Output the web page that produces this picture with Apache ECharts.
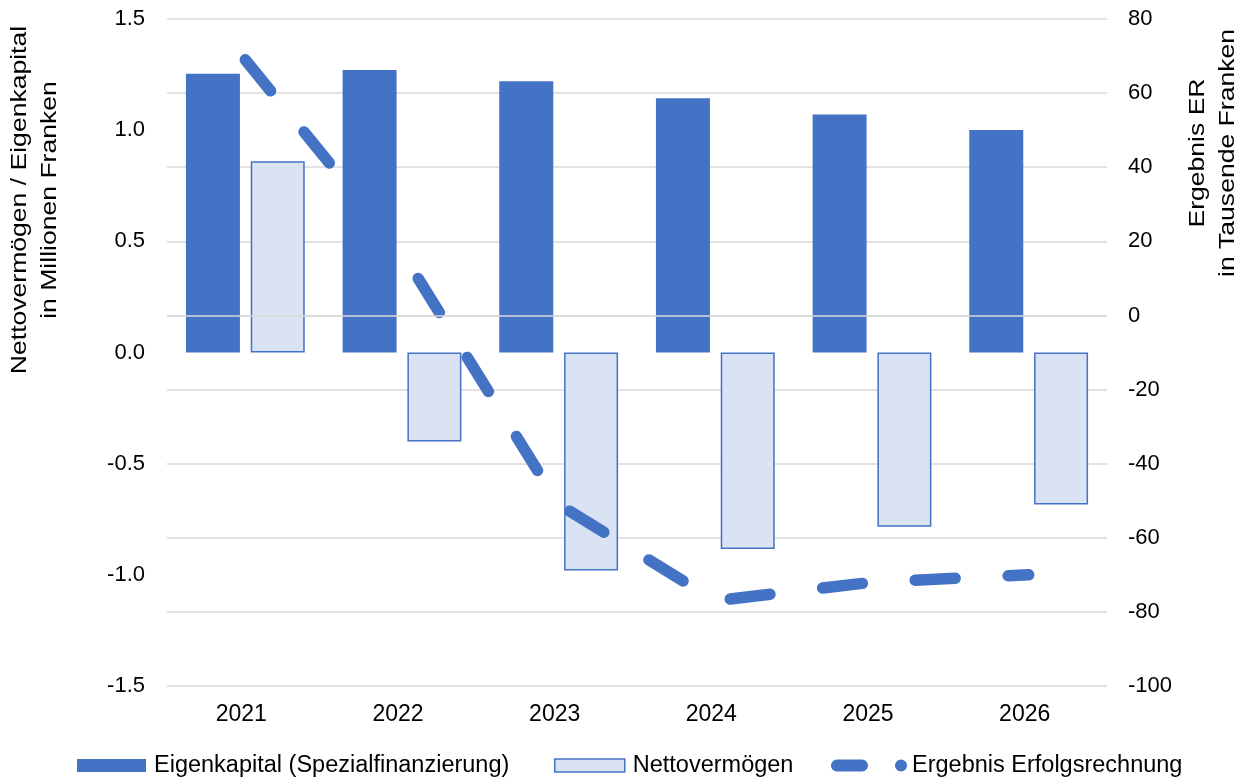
<!DOCTYPE html>
<html lang="de">
<head>
<meta charset="utf-8">
<title>Eigenkapital, Nettovermögen und Ergebnis ER 2021–2026</title>
<script src="https://cdn.jsdelivr.net/npm/echarts@6/dist/echarts.min.js"></script>
<style>
  html, body { margin: 0; padding: 0; background: #ffffff; }
  #chart { width: 1254px; height: 783px; }
</style>
</head>
<body>
<div id="chart"></div>
<script>
// Jahre (Kategorien)
const years = ['2021', '2022', '2023', '2024', '2025', '2026'];

// Eigenkapital (Spezialfinanzierung), Mio. Franken
const eigenkapital = [1.254, 1.271, 1.220, 1.143, 1.071, 1.001];

// Nettovermögen, Mio. Franken
const nettovermoegen = [0.860, -0.400, -0.980, -0.884, -0.784, -0.684];

// Ergebnis Erfolgsrechnung, Tausend Franken
const ergebnisER = [69, 17, -51, -77, -72, -70];

// Achsenbereiche
const leftAxisRange = { min: -1.5, max: 1.5, step: 0.5 };
const rightAxisRange = { min: -100, max: 80, step: 20 };

const BLUE = '#4472C4';
const LIGHT = '#DAE3F3';
const GRID = '#d9d9d9';
const FONT = "'Liberation Sans', Arial, sans-serif";

const chart = echarts.init(document.getElementById('chart'), null, { renderer: 'canvas' });

const legendText = { color: '#000', fontFamily: FONT, fontSize: 23.5, lineHeight: 24 };

chart.setOption({
  animation: false,
  backgroundColor: '#ffffff',
  grid: { left: 167, right: 147, top: 19, bottom: 97 },
  xAxis: {
    type: 'category',
    data: years,
    axisLine: { show: false },
    axisTick: { show: false },
    axisLabel: {
      color: '#000', fontFamily: FONT, fontSize: 23, margin: 17,
      padding: [0, 8, 0, 0]
    },
    splitLine: { show: false }
  },
  yAxis: [
    {
      type: 'value',
      min: leftAxisRange.min, max: leftAxisRange.max, interval: leftAxisRange.step,
      axisLine: { show: false },
      axisTick: { show: false },
      splitLine: { show: false },
      axisLabel: {
        color: '#000', fontFamily: FONT, fontSize: 22, margin: 22,
        formatter: v => (Math.abs(v) < 1e-9 ? 0 : v).toFixed(1)
      }
    },
    {
      type: 'value',
      position: 'right',
      min: rightAxisRange.min, max: rightAxisRange.max, interval: rightAxisRange.step,
      axisLine: { show: false },
      axisTick: { show: false },
      splitLine: { show: true, lineStyle: { color: GRID, width: 1.5 } },
      axisLabel: { color: '#000', fontFamily: FONT, fontSize: 22, margin: 21 }
    }
  ],
  legend: [
    {
      data: ['Eigenkapital (Spezialfinanzierung)'],
      left: 77, top: 753.5, padding: 0, itemWidth: 69, itemHeight: 13, icon: 'rect',
      selectedMode: false,
      itemStyle: { borderWidth: 0 },
      textStyle: Object.assign({ padding: [0, 0, 0, 3] }, legendText)
    },
    {
      data: ['Nettovermögen'],
      left: 554, top: 753.5, padding: 0, itemWidth: 70, itemHeight: 13, icon: 'rect',
      selectedMode: false,
      itemStyle: { borderWidth: 1.5, borderColor: BLUE },
      textStyle: Object.assign({ padding: [0, 0, 0, 3] }, legendText)
    },
    {
      data: [{
        name: 'Ergebnis Erfolgsrechnung',
        // long dash followed by the start of the next dash (round caps)
        icon: 'path://M6 0H31A6 6 0 0 1 31 12H6A6 6 0 0 1 6 0ZM64 6A6 6 0 1 1 76 6A6 6 0 1 1 64 6Z'
      }],
      left: 831, top: 753.5, padding: 0, itemWidth: 76, itemHeight: 12,
      selectedMode: false,
      itemStyle: { color: BLUE, borderWidth: 0 },
      textStyle: legendText
    }
  ],
  graphic: [
    {
      type: 'text',
      x: 35.5, y: 200,
      rotation: Math.PI / 2,
      scaleX: 1.235,
      style: {
        text: 'Nettovermögen / Eigenkapital\nin Millionen Franken',
        fill: '#000', fontFamily: FONT, fontSize: 21.5, lineHeight: 30,
        align: 'center', verticalAlign: 'middle'
      }
    },
    {
      type: 'text',
      x: 1213, y: 153,
      rotation: Math.PI / 2,
      scaleX: 1.235,
      style: {
        text: 'Ergebnis ER\nin Tausende Franken',
        fill: '#000', fontFamily: FONT, fontSize: 21.5, lineHeight: 30,
        align: 'center', verticalAlign: 'middle'
      }
    }
  ],
  series: [
    {
      name: 'Eigenkapital (Spezialfinanzierung)',
      type: 'bar',
      yAxisIndex: 0,
      data: eigenkapital,
      barWidth: 54,
      barGap: '20%',
      z: 4,
      itemStyle: { color: BLUE }
    },
    {
      name: 'Nettovermögen',
      type: 'bar',
      yAxisIndex: 0,
      data: nettovermoegen,
      barWidth: 54,
      barGap: '20%',
      z: 2,
      itemStyle: { color: LIGHT, borderColor: BLUE, borderWidth: 1.5 }
    },
    {
      name: 'Ergebnis Erfolgsrechnung',
      type: 'line',
      yAxisIndex: 1,
      data: ergebnisER,
      symbol: 'none',
      z: 3,
      itemStyle: { color: BLUE },
      lineStyle: { color: BLUE, width: 11.5, type: [40, 53], cap: 'round', join: 'round' },
      // zero line of the secondary axis, drawn over the bars
      markLine: {
        silent: true,
        symbol: 'none',
        z: 5,
        label: { show: false },
        lineStyle: { color: GRID, width: 1.5, type: 'solid' },
        emphasis: { disabled: true },
        data: [{ yAxis: 0 }]
      }
    }
  ]
});
</script>
</body>
</html>
